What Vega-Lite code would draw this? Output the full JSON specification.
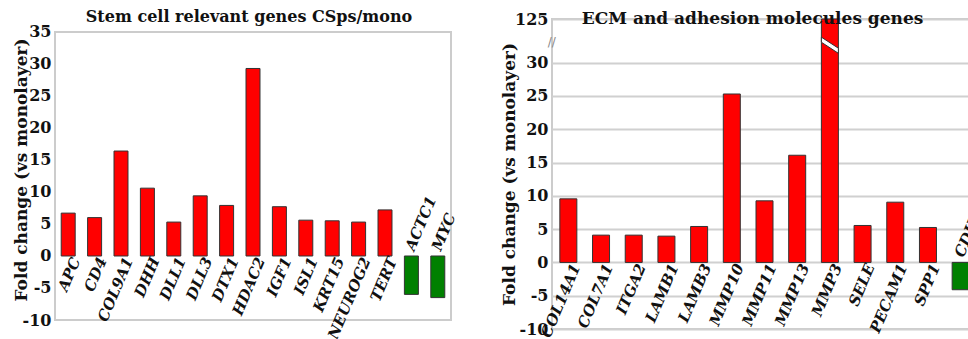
{
  "$schema": "https://vega.github.io/schema/vega-lite/v6.json",
  "padding": {"left": 12, "top": 9, "right": 0, "bottom": 0},
  "background": "white",
  "config": {
    "font": "DejaVu Serif",
    "view": {"stroke": "#cccccc", "strokeWidth": 2},
    "axis": {
      "labelFont": "DejaVu Serif", "labelFontWeight": "bold", "labelFontSize": 16, "labelColor": "#111111",
      "titleFont": "DejaVu Serif", "titleFontWeight": "bold", "titleFontSize": 17, "titleColor": "#111111",
      "gridColor": "#d0d0d0", "gridWidth": 2, "ticks": false, "domain": false, "labelOverlap": false,
      "labelExpr": "'' + datum.value"
    },
    "concat": {"spacing": 40}
  },
  "datasets": {
    "stem": [
      {"gene": "APC", "value": 6.7},
      {"gene": "CD4", "value": 6.0},
      {"gene": "COL9A1", "value": 16.4},
      {"gene": "DHH", "value": 10.6},
      {"gene": "DLL1", "value": 5.3},
      {"gene": "DLL3", "value": 9.4},
      {"gene": "DTX1", "value": 7.9},
      {"gene": "HDAC2", "value": 29.3},
      {"gene": "IGF1", "value": 7.7},
      {"gene": "ISL1", "value": 5.6},
      {"gene": "KRT15", "value": 5.5},
      {"gene": "NEUROG2", "value": 5.3},
      {"gene": "TERT", "value": 7.2},
      {"gene": "ACTC1", "value": -6.0},
      {"gene": "MYC", "value": -6.5}
    ],
    "ecm": [
      {"gene": "COL14A1", "value": 9.55},
      {"gene": "COL7A1", "value": 4.1},
      {"gene": "ITGA2", "value": 4.1},
      {"gene": "LAMB1", "value": 3.95},
      {"gene": "LAMB3", "value": 5.4},
      {"gene": "MMP10", "value": 25.3},
      {"gene": "MMP11", "value": 9.25},
      {"gene": "MMP13", "value": 16.1},
      {"gene": "MMP3", "value": 125},
      {"gene": "SELE", "value": 5.55},
      {"gene": "PECAM1", "value": 9.05},
      {"gene": "SPP1", "value": 5.25},
      {"gene": "CDH1", "value": -4.1}
    ]
  },
  "hconcat": [
    {
      "width": 396,
      "height": 301,
      "view": {"stroke": null},
      "data": {"name": "stem"},
      "layer": [
        {
          "transform": [{"filter": "datum.gene == 'APC'"}],
          "mark": {"type": "rect", "fill": null, "stroke": "#cccccc", "strokeWidth": 2},
          "encoding": {
            "y": {"datum": 35, "scale": {"domain": [-10, 37.03], "nice": false},
                  "axis": {"title": "Fold change (vs monolayer)", "values": [-10, -5, 0, 5, 10, 15, 20, 25, 30, 35], "labelPadding": 4, "titlePadding": -8}},
            "y2": {"datum": -10}
          }
        },
        {
          "mark": {"type": "bar", "stroke": "#333333", "strokeWidth": 1},
          "encoding": {
            "x": {"field": "gene", "type": "nominal", "sort": null, "scale": {"paddingInner": 0.47, "paddingOuter": 0.235}, "axis": null},
            "y": {"field": "value", "type": "quantitative", "scale": {"domain": [-10, 37.03], "nice": false},
                  "axis": {"title": "Fold change (vs monolayer)", "values": [-10, -5, 0, 5, 10, 15, 20, 25, 30, 35], "labelPadding": 4, "titlePadding": -8}},
            "color": {"condition": {"test": "datum.value < 0", "value": "#008000"}, "value": "#ff0000"}
          }
        },
        {
          "transform": [{"filter": "datum.value >= 0"}],
          "mark": {"type": "text", "angle": 293, "align": "right", "baseline": "middle", "dx": 1, "dy": 8,
                   "font": "DejaVu Serif", "fontWeight": "bold", "fontStyle": "italic", "fontSize": 15, "color": "#111111"},
          "encoding": {
            "x": {"field": "gene", "type": "nominal", "sort": null, "scale": {"paddingInner": 0.47, "paddingOuter": 0.235}, "axis": null},
            "y": {"datum": 0, "scale": {"domain": [-10, 37.03], "nice": false},
                  "axis": {"title": "Fold change (vs monolayer)", "values": [-10, -5, 0, 5, 10, 15, 20, 25, 30, 35], "labelPadding": 4, "titlePadding": -8}},
            "text": {"field": "gene"}
          }
        },
        {
          "transform": [{"filter": "datum.value < 0"}],
          "mark": {"type": "text", "angle": 293, "align": "left", "baseline": "middle", "dx": 5, "dy": -4,
                   "font": "DejaVu Serif", "fontWeight": "bold", "fontStyle": "italic", "fontSize": 15, "color": "#111111"},
          "encoding": {
            "x": {"field": "gene", "type": "nominal", "sort": null, "scale": {"paddingInner": 0.47, "paddingOuter": 0.235}, "axis": null},
            "y": {"datum": 0, "scale": {"domain": [-10, 37.03], "nice": false},
                  "axis": {"title": "Fold change (vs monolayer)", "values": [-10, -5, 0, 5, 10, 15, 20, 25, 30, 35], "labelPadding": 4, "titlePadding": -8}},
            "text": {"field": "gene"}
          }
        },
        {
          "transform": [{"filter": "datum.gene == 'HDAC2'"}],
          "mark": {"type": "text", "text": "Stem cell relevant genes CSps/mono", "align": "center", "baseline": "alphabetic", "dx": -4,
                   "font": "DejaVu Serif", "fontWeight": "bold", "fontSize": 16, "color": "#111111"},
          "encoding": {
            "x": {"field": "gene", "type": "nominal", "sort": null, "scale": {"paddingInner": 0.47, "paddingOuter": 0.235}, "axis": null},
            "y": {"datum": 36.56, "scale": {"domain": [-10, 37.03], "nice": false},
                  "axis": {"title": "Fold change (vs monolayer)", "values": [-10, -5, 0, 5, 10, 15, 20, 25, 30, 35], "labelPadding": 4, "titlePadding": -8}}
          }
        }
      ]
    },
    {
      "width": 417,
      "height": 310,
      "data": {"name": "ecm"},
      "layer": [
        {
          "mark": {"type": "bar", "stroke": "#333333", "strokeWidth": 1},
          "encoding": {
            "x": {"field": "gene", "type": "nominal", "sort": null, "scale": {"paddingInner": 0.48, "paddingOuter": 0.24, "range": [0, 425]}, "axis": null},
            "y": {"field": "value", "type": "quantitative",
                  "scale": {"domain": [-10, 30, 125], "range": [310, 43.7, 0], "nice": false},
                  "axis": {"title": "Fold change (vs monolayer)", "values": [-10, -5, 0, 5, 10, 15, 20, 25, 30, 125], "labelPadding": 4, "titlePadding": -3.5}},
            "color": {"condition": {"test": "datum.value < 0", "value": "#008000"}, "value": "#ff0000"}
          }
        },
        {
          "transform": [{"filter": "datum.value >= 0"}],
          "mark": {"type": "text", "angle": 293, "align": "right", "baseline": "middle", "dx": 1, "dy": 8,
                   "font": "DejaVu Serif", "fontWeight": "bold", "fontStyle": "italic", "fontSize": 15, "color": "#111111"},
          "encoding": {
            "x": {"field": "gene", "type": "nominal", "sort": null, "scale": {"paddingInner": 0.48, "paddingOuter": 0.24, "range": [0, 425]}, "axis": null},
            "y": {"datum": 0, "scale": {"domain": [-10, 30, 125], "range": [310, 43.7, 0], "nice": false},
                  "axis": {"title": "Fold change (vs monolayer)", "values": [-10, -5, 0, 5, 10, 15, 20, 25, 30, 125], "labelPadding": 4, "titlePadding": -3.5}},
            "text": {"field": "gene"}
          }
        },
        {
          "transform": [{"filter": "datum.value < 0"}],
          "mark": {"type": "text", "angle": 293, "align": "left", "baseline": "middle", "dx": 5, "dy": -4,
                   "font": "DejaVu Serif", "fontWeight": "bold", "fontStyle": "italic", "fontSize": 15, "color": "#111111"},
          "encoding": {
            "x": {"field": "gene", "type": "nominal", "sort": null, "scale": {"paddingInner": 0.48, "paddingOuter": 0.24, "range": [0, 425]}, "axis": null},
            "y": {"datum": 0, "scale": {"domain": [-10, 30, 125], "range": [310, 43.7, 0], "nice": false},
                  "axis": {"title": "Fold change (vs monolayer)", "values": [-10, -5, 0, 5, 10, 15, 20, 25, 30, 125], "labelPadding": 4, "titlePadding": -3.5}},
            "text": {"field": "gene"}
          }
        },
        {
          "transform": [{"filter": "datum.gene == 'MMP3'"}],
          "mark": {"type": "point", "filled": true, "fill": "white", "stroke": "#333333", "strokeWidth": 1, "opacity": 1,
                   "shape": "M-1,-0.95L1,0.35L1,0.95L-1,-0.35Z", "size": 289},
          "encoding": {
            "x": {"field": "gene", "type": "nominal", "sort": null, "scale": {"paddingInner": 0.48, "paddingOuter": 0.24, "range": [0, 425]}, "axis": null},
            "y": {"datum": 68, "scale": {"domain": [-10, 30, 125], "range": [310, 43.7, 0], "nice": false},
                  "axis": {"title": "Fold change (vs monolayer)", "values": [-10, -5, 0, 5, 10, 15, 20, 25, 30, 125], "labelPadding": 4, "titlePadding": -3.5}}
          }
        },
        {
          "transform": [{"filter": "datum.gene == 'COL14A1'"}],
          "mark": {"type": "text", "text": "//", "align": "center", "baseline": "middle", "dx": -8,
                   "font": "DejaVu Sans", "fontSize": 12, "color": "#888888"},
          "encoding": {
            "x": {"field": "gene", "type": "nominal", "sort": null, "bandPosition": 0, "scale": {"paddingInner": 0.48, "paddingOuter": 0.24, "range": [0, 425]}, "axis": null},
            "y": {"datum": 76, "scale": {"domain": [-10, 30, 125], "range": [310, 43.7, 0], "nice": false},
                  "axis": {"title": "Fold change (vs monolayer)", "values": [-10, -5, 0, 5, 10, 15, 20, 25, 30, 125], "labelPadding": 4, "titlePadding": -3.5}}
          }
        },
        {
          "transform": [{"filter": "datum.gene == 'MMP11'"}],
          "mark": {"type": "text", "text": "ECM and adhesion molecules genes", "align": "center", "baseline": "alphabetic", "dx": -12,
                   "font": "DejaVu Serif", "fontWeight": "bold", "fontSize": 17, "color": "#111111"},
          "encoding": {
            "x": {"field": "gene", "type": "nominal", "sort": null, "scale": {"paddingInner": 0.48, "paddingOuter": 0.24, "range": [0, 425]}, "axis": null},
            "y": {"datum": 114, "scale": {"domain": [-10, 30, 125], "range": [310, 43.7, 0], "nice": false},
                  "axis": {"title": "Fold change (vs monolayer)", "values": [-10, -5, 0, 5, 10, 15, 20, 25, 30, 125], "labelPadding": 4, "titlePadding": -3.5}}
          }
        }
      ]
    }
  ]
}
